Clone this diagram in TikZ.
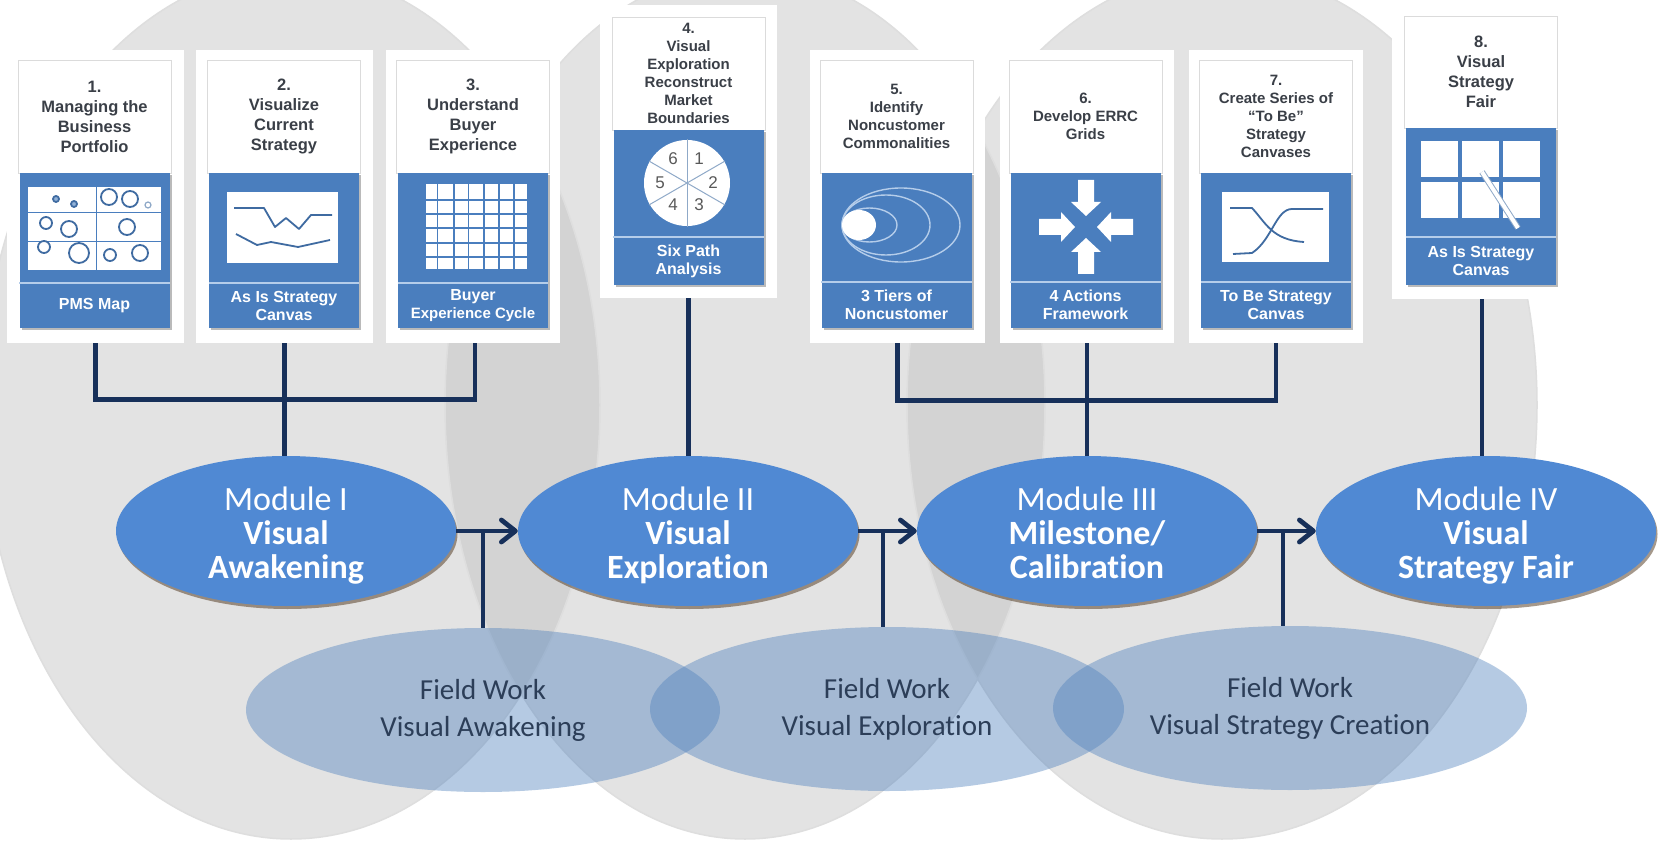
\documentclass[tikz,border=0pt]{standalone}
\usepackage{fontspec}
\setmainfont{Liberation Sans}
\newfontfamily\calibrifont[Ligatures=NoCommon]{Carlito}
\usetikzlibrary{shapes.geometric,positioning,arrows.meta,shadows}
\definecolor{lobegrey}{HTML}{E3E3E3}
\definecolor{lobedark}{HTML}{D3D3D3}
\definecolor{modblue}{HTML}{5089D3}
\definecolor{panelblue}{HTML}{4A7EBE}
\definecolor{fieldblue}{HTML}{4F81BD}
\definecolor{linknavy}{HTML}{17305A}
\definecolor{headgrey}{HTML}{3A3F47}
\definecolor{fieldtext}{HTML}{2C3E58}
\definecolor{hairblue}{HTML}{B5CDEA}
\definecolor{penblue}{HTML}{8FA9C8}
\newcommand{\modtop}{\rule{0pt}{32pt}}
\tikzset{
  backing/.style={fill=white,inner sep=0pt},
  headbox/.style={fill=white,draw=black!14,line width=0.8pt,inner sep=0pt,minimum width=153pt,align=center,text=headgrey,
    font=\bfseries,drop shadow={shadow xshift=0.8pt,shadow yshift=-0.8pt,fill=black!50,opacity=.4}},
  headbig/.style={headbox,font=\fontsize{16.5}{20}\selectfont\bfseries},
  headsmall/.style={headbox,font=\fontsize{15}{18}\selectfont\bfseries},
  panel/.style={fill=panelblue,inner sep=0pt,minimum width=150pt,
    drop shadow={shadow xshift=2pt,shadow yshift=-2.5pt,fill=black!60,opacity=.45}},
  captext/.style={text=white,align=center,font=\fontsize{16}{18}\selectfont\bfseries},
  iconline/.style={draw=panelblue!85!black,line width=1.8pt,line join=round},
  module/.style={ellipse,fill=modblue,inner sep=0pt,minimum width=340pt,minimum height=150pt,
    text=white,align=center,font=\calibrifont\fontsize{34}{34}\selectfont,
    drop shadow={shadow xshift=1.5pt,shadow yshift=-3pt,fill=black!60!brown,opacity=.5}},
  fieldwork/.style={ellipse,fill=fieldblue,fill opacity=0.42,text opacity=1,inner sep=0pt,
    minimum width=474pt,minimum height=164pt,text=fieldtext,align=center,
    font=\calibrifont\fontsize{29}{37}\selectfont},
  link/.style={draw=linknavy,line width=4.8pt},
  flow/.style={draw=linknavy,line width=4.8pt,-{Straight Barb[length=14pt,width=22pt,line width=4.8pt,round]}},
  drop/.style={draw=linknavy,line width=4pt}
}
\begin{document}
\begin{tikzpicture}[x=1pt,y=-1pt]
  \useasboundingbox (0,0) rectangle (1660,842);
  \clip (0,0) rectangle (1660,842);
  \fill[white] (0,0) rectangle (1660,842);
  \foreach \px/\rx in {291/309,745/300,1222/315}{
    \fill[lobegrey] (\px,405) ellipse [x radius=\rx,y radius=434];
  }
  \begin{scope}
    \clip (291,405) ellipse [x radius=309,y radius=434];
    \fill[lobedark] (745,405) ellipse [x radius=300,y radius=434];
  \end{scope}
  \begin{scope}
    \clip (745,405) ellipse [x radius=300,y radius=434];
    \fill[lobedark] (1222,405) ellipse [x radius=315,y radius=434];
  \end{scope}
  \foreach \px/\rx in {291/309,745/300,1222/315}{
    \draw[black!13,line width=1.5pt] (\px,405) ellipse [x radius=\rx,y radius=434];
  }
  \foreach \nm/\xa/\xb/\ya/\yb in {A/7/184/50/343,B/196/373/50/343,C/386/560/50/343,
      D/600/777/5/298,E/810/985/50/343,F/1000/1174/50/343,G/1189/1363/50/343,H/1392/1572/5/299}{
    \pgfmathsetmacro{\cw}{\xb-\xa}
    \pgfmathsetmacro{\ch}{\yb-\ya}
    \node[backing,minimum width=\cw pt,minimum height=\ch pt] (back\nm) at ({(\xa+\xb)/2},{(\ya+\yb)/2}) {};
  }
  \foreach \nm/\cx/\ya/\yb/\yc/\yd/\hs/\hd/\cp in {
      A/94.5/60/173/283/328/headbig/{1.\\Managing the\\Business\\Portfolio}/{PMS Map},
      B/284/60/173/283/328/headbig/{2.\\Visualize\\Current\\Strategy}/{As Is Strategy\\Canvas},
      C/473/60/173/283/328/headbig/{3.\\Understand\\Buyer\\Experience}/{Buyer\\\fontsize{15}{18}\selectfont Experience Cycle},
      D/688.5/17/130/237/285/headsmall/{4.\\Visual\\Exploration\\Reconstruct\\Market\\Boundaries}/{Six Path\\Analysis},
      E/896.5/60/173/282/328/headsmall/{5.\\Identify\\Noncustomer\\Commonalities}/{3 Tiers of\\Noncustomer},
      F/1085.5/60/173/282/328/headsmall/{6.\\Develop ERRC\\Grids}/{4 Actions\\Framework},
      G/1276/60/173/282/328/headsmall/{7.\\Create Series of\\``To Be''\\Strategy\\Canvases}/{To Be  Strategy\\Canvas},
      H/1481/16/128/237/285/headbig/{8.\\Visual\\Strategy\\Fair}/{As Is Strategy\\Canvas}}{
    \pgfmathsetmacro{\hh}{\yb-\ya}
    \pgfmathsetmacro{\ph}{\yd-\yb}
    \node[\hs,minimum height=\hh pt] (head\nm) at (\cx,{(\ya+\yb)/2}) {\hd};
    \node[panel,minimum height=\ph pt] (panel\nm) at (\cx,{(\yb+\yd)/2}) {};
    \draw[hairblue,line width=1.2pt] (panel\nm.west |- 0,\yc) -- (panel\nm.east |- 0,\yc);
    \node[captext] (cap\nm) at (\cx,{(\yc+\yd)/2}) {\cp};
  }
  % portfolio map
  \fill[white] (28,187) rectangle (161,270);
  \draw[panelblue,line width=1pt] (96,187) -- (96,270) (28,213) -- (161,213) (28,242) -- (161,242);
  \foreach \px/\py/\rr in {109/197/8,130/199/8,46/223/6,69/229/8,127/227/8,44/247/6,79/253/10,110/255/6,140/253/8}{
    \draw[iconline] (\px,\py) circle (\rr);
  }
  \foreach \px/\py in {56/199,74/204}{
    \draw[iconline,fill=panelblue!60] (\px,\py) circle (3);
  }
  \draw[penblue,line width=1.2pt] (148,205) circle (3);
  % strategy canvas
  \fill[white] (227,192) rectangle (338,263);
  \draw[iconline] (234,208) -- (264,208) -- (275,227) -- (286,218) -- (299,229) -- (311,215) -- (332,215);
  \draw[iconline] (236,234) -- (257,245) -- (271,242) -- (298,247) -- (330,240);
  % buyer grid
  \fill[white] (426,184) rectangle (527,269);
  \foreach \gx in {437.5,454,468.5,484,499,514}{
    \draw[panelblue,line width=1.6pt] (\gx,184) -- (\gx,269);
  }
  \foreach \gy in {200,214,228,243,257}{
    \draw[panelblue,line width=1.6pt] (426,\gy) -- (527,\gy);
  }
  % six paths
  \fill[white] (687,183) circle (43);
  \foreach \ang in {90,30,150}{
    \draw[penblue,line width=1pt] (687,183) ++(\ang:44) -- ++(\ang+180:88);
  }
  \foreach \px/\py/\dg in {673/159/6,699/159/1,713/183/2,699/205/3,673/205/4,660/183/5}{
    \node[text=black!65,font=\fontsize{17}{17}\selectfont] (path\dg) at (\px,\py) {\dg};
  }
  % tiers
  \foreach \rx/\ry in {27.5/17,44/30,59/37}{
    \draw[hairblue,line width=1.4pt] (842+\rx,225) ellipse [x radius=\rx,y radius=\ry];
  }
  \fill[white] (859,225) ellipse [x radius=17,y radius=15];
  % four actions
  \foreach \ang in {0,90,180,270}{
    \fill[white,shift={(1086,227)},rotate=\ang] (11,0) -- (25,15) -- (25,8) -- (47,8) -- (47,-8) -- (25,-8) -- (25,-15) -- cycle;
  }
  % crossing curves
  \fill[white] (1222,192) rectangle (1329,262);
  \draw[iconline] (1230,208) -- (1252,208) .. controls (1266,223) and (1272,240) .. (1304,242);
  \draw[iconline] (1233,254) -- (1252,253) .. controls (1272,240) and (1276,209) .. (1292,209) -- (1323,209);
  % fair board
  \foreach \px in {1420.5,1462,1503}{
    \foreach \py in {141,182}{
      \fill[white] (\px,\py) rectangle ++(37,36);
    }
  }
  \draw[draw=penblue,double=white,double distance=4pt,line width=1pt] (1482,172) -- (1518,228);
  \foreach \nm/\px/\ttl in {A/286/{\modtop Module I\\\textbf{Visual}\\\textbf{Awakening}},
      B/688/{\modtop Module II\\\textbf{Visual}\\\textbf{Exploration}},
      C/1087/{\modtop Module III\\\textbf{Milestone/}\\\textbf{Calibration}\vphantom{g}},
      D/1486/{\modtop Module IV\\\textbf{Visual}\\\textbf{Strategy Fair}}}{
    \node[module] (module\nm) at (\px,531) {\ttl};
  }
  \foreach \nm/\px/\py/\ttl in {A/483/710/{Field Work\\Visual Awakening},
      B/887/709/{Field Work\\Visual Exploration},
      C/1290/708/{Field Work\\Visual Strategy Creation}}{
    \node[fieldwork] (field\nm) at (\px,\py) {\ttl};
  }
  \draw[link] (backA.south) -- ++(0,56) -| ([xshift=2pt]backC.south);
  \draw[link] (backB.south) -- (backB.south |- moduleA.north);
  \draw[link] (backD.south) -- (backD.south |- moduleB.north);
  \draw[link] (backE.south) -- ++(0,57) -| (backG.south);
  \draw[link] (backF.south) -- (backF.south |- moduleC.north);
  \draw[link] (backH.south) -- (backH.south |- moduleD.north);
  \draw[flow] (moduleA.east) -- (moduleB.west);
  \draw[flow] (moduleB.east) -- (moduleC.west);
  \draw[flow] (moduleC.east) -- (moduleD.west);
  \draw[drop] (fieldA.north) -- (fieldA.north |- moduleA.east);
  \draw[drop] ([xshift=-4pt]fieldB.north) -- ([xshift=-4pt]fieldB.north |- moduleB.east);
  \draw[drop] ([xshift=-7pt]fieldC.north) -- ([xshift=-7pt]fieldC.north |- moduleC.east);
\end{tikzpicture}
\end{document}
